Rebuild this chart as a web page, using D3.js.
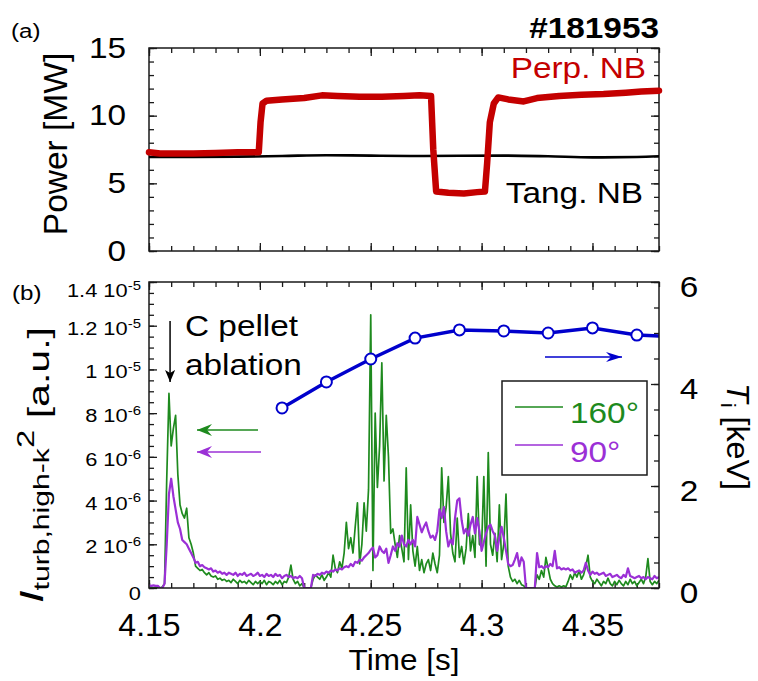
<!DOCTYPE html>
<html>
<head>
<meta charset="utf-8">
<script src="https://cdn.jsdelivr.net/npm/d3@7"></script>
<style>
  body { margin: 0; background: #fff; }
  text { font-family: "Liberation Sans", Arial, sans-serif; }
</style>
</head>
<body>
<div id="chart"></div>
<script>
// ---------- data ----------
// (a) neutral beam power [MW]
var nbTime = [4.150, 4.155, 4.160, 4.170, 4.180, 4.190, 4.195, 4.1995, 4.2003, 4.2012,
              4.203, 4.210, 4.220, 4.228, 4.235, 4.245, 4.255, 4.265, 4.272, 4.2772,
              4.2782, 4.2795, 4.285, 4.292, 4.298, 4.3015, 4.3025, 4.3037, 4.3055, 4.3075,
              4.312, 4.319, 4.325, 4.335, 4.345, 4.355, 4.365, 4.372, 4.380];
var perpNB = [7.3, 7.2, 7.2, 7.2, 7.25, 7.3, 7.3, 7.3, 9.5, 10.9,
              11.1, 11.2, 11.3, 11.5, 11.45, 11.4, 11.4, 11.45, 11.5, 11.45,
              7.5, 4.4, 4.3, 4.25, 4.35, 4.4, 6.5, 9.5, 10.9, 11.35,
              11.2, 11.05, 11.3, 11.45, 11.55, 11.6, 11.7, 11.78, 11.85];
var tangTime = [4.15, 4.17, 4.19, 4.21, 4.23, 4.25, 4.27, 4.29, 4.31, 4.33, 4.35, 4.37, 4.38];
var tangNB   = [6.95, 6.95, 6.97, 7.02, 7.08, 7.05, 7.02, 7.04, 7.05, 7.0, 6.92, 6.95, 7.0];

// (b) ion temperature [keV]
var tiTime = [4.21, 4.23, 4.25, 4.27, 4.29, 4.31, 4.33, 4.35, 4.37, 4.39];
var tiKeV  = [3.53, 4.04, 4.49, 4.9, 5.06, 5.04, 5.0, 5.1, 4.96, 4.92];

// (b) high-k turbulence intensity [1e-6 a.u.], sampled every 1 ms from 4.150 s
var sigStart = 4.150, sigStep = 0.001;
var sig160 = [
  0.05, 0.05, 0, 0.05, 0, 0, 0.05, 0.2, 5.0, 8.9,
  6.5, 7.3, 7.9, 5.2, 3.8, 3.4, 3.2, 3.65, 2.3, 2.0,
  1.6, 1.0, 0.9, 0.8, 0.85, 0.7, 0.6, 0.7, 0.55, 0.5,
  0.55, 0.4, 0.45, 0.35, 0.4, 0.3, 0.35, 0.25, 0.4, 0.3,
  0.2, 0.35, 0.25, 0.3, 0.2, 0.35, 0.25, 0.15, 0.3, 0.2,
  0.3, 0.2, 0.35, 0.15, 0.3, 0.25, 0.15, 0.3, 0.2, 0.35,
  0.15, 0.3, 0.25, 0.5, 1.05, 0.4, 0.2, 0.3, 0.1, 0.2,
  0, 0, 0, 0, 0.4, 0.6, 0.5, 0.4, 0.6, 0.35,
  0.5, 0.7, 0.5, 1.5, 0.9, 0.7, 1.2, 0.9, 1.6, 3.0,
  1.8, 2.3, 1.6, 2.8, 3.9, 1.1, 2.0, 3.9, 2.6, 4.5,
  12.5, 0.8, 8.0, 4.6, 6.5, 10.3, 4.9, 7.9, 6.0, 2.5,
  2.7, 2.0, 1.4, 2.4, 1.8, 1.2, 5.5, 1.3, 3.8, 1.7,
  1.0, 1.9, 0.8, 1.3, 0.7, 1.1, 1.3, 0.8, 1.6, 1.1,
  0.7, 1.5, 5.5, 3.0, 3.7, 5.1, 2.5, 1.6, 1.2, 3.2,
  1.4, 1.9, 1.1, 1.8, 3.4, 1.7, 2.4, 1.4, 5.1, 2.0,
  1.9, 5.1, 1.0, 6.2, 2.0, 1.5, 2.5, 1.2, 3.8, 1.3,
  2.0, 4.3, 1.0, 0.5, 0.3, 0.4, 0.2, 0.35, 0.15, 0.1,
  0, 0, 0, 0, 0, 0.6, 0.4, 0.8, 0.5, 1.4,
  0.9, 0.4, 0.2, 0.1, 0.05, 0.1, 0.05, 0.1, 0.05, 0.3,
  0.6, 0.4, 0.7, 0.5, 0.8, 0.4, 0.6, 1.0, 1.5, 0.5,
  0.3, 0.2, 0.4, 0.25, 0.1, 0.3, 0.2, 0.45, 0.2, 0.1,
  0.3, 0.15, 0.35, 0.2, 0.1, 0.3, 0.15, 0.4, 0.2, 0.3,
  0.1, 0.25, 0.4, 0.2, 0.5, 1.35, 0.3, 0.15, 0.3, 0.2,
  0.35];
var sig90 = [
  0.12, 0.1, 0.12, 0.1, 0.1, 0, 0, 0.2, 2.0, 4.3,
  5.0, 4.2, 3.6, 3.0, 2.7, 2.2, 2.1, 2.0, 1.8, 1.6,
  1.4, 1.15, 1.2, 1.0, 1.05, 0.95, 0.9, 0.85, 0.9, 0.75,
  0.8, 0.7, 0.75, 0.65, 0.7, 0.6, 0.7, 0.65, 0.6, 0.7,
  0.55, 0.65, 0.6, 0.7, 0.55, 0.6, 0.65, 0.55, 0.6, 0.7,
  0.55, 0.6, 0.5, 0.65, 0.55, 0.6, 0.5, 0.65, 0.55, 0.6,
  0.45, 0.55, 0.6, 0.5, 0.55, 0.45, 0.5, 0.45, 0.55, 0.45,
  0, 0, 0, 0, 0.6, 0.55, 0.65, 0.6, 0.7, 0.65,
  0.75, 0.7, 0.8, 0.75, 0.85, 0.8, 0.9, 0.85, 0.95, 1.0,
  0.95, 1.1, 1.0, 1.2, 1.15, 1.3, 1.25, 1.4, 1.5, 1.6,
  1.75, 1.85, 1.4, 1.5, 1.9, 1.7, 1.6, 1.8, 1.15, 1.5,
  1.9, 1.7, 2.05, 1.9, 2.4, 2.0, 1.9, 2.2, 2.0, 2.2,
  1.9, 3.25, 2.9, 2.55, 2.8, 3.0, 2.6, 2.3, 2.4, 2.2,
  2.6, 3.6, 3.2, 3.7, 2.6, 1.9, 2.2, 2.0, 3.2, 4.0,
  4.1, 3.1, 2.5, 2.7, 2.4, 2.9, 3.25, 2.5, 3.2, 2.6,
  1.7, 2.1, 2.5, 2.8, 2.9, 2.6, 2.4, 1.7, 2.3, 2.8,
  2.3, 1.7, 1.1, 1.0, 1.05, 1.3, 1.6, 1.0, 1.4, 1.2,
  0, 0, 0, 0, 0, 1.6, 0.95, 1.0, 0.9, 1.0,
  0.95, 1.1, 1.0, 1.7, 0.9, 0.95, 0.85, 0.9, 0.85, 0.9,
  0.8, 0.85, 0.7, 0.75, 0.8, 0.7, 0.8, 1.15, 0.8, 0.6,
  0.75, 0.65, 0.7, 0.6, 0.65, 0.7, 0.55, 0.6, 0.65, 0.5,
  0.55, 0.6, 0.5, 0.45, 0.6, 0.5, 0.9, 0.55, 0.5, 0.45,
  0.5, 0.55, 0.45, 0.5, 0.4, 0.5, 0.45, 0.4, 0.55, 0.45,
  0.5];

// ticks and labels
var xTicks = [4.15, 4.2, 4.25, 4.3, 4.35];
var xTickLabels = ["4.15", "4.2", "4.25", "4.3", "4.35"];
var powerTicks = [0, 5, 10, 15];
var intTicks = [0, 2, 4, 6, 8, 10, 12, 14];
var intTickMant = ["0", "2", "4", "6", "8", "1", "1.2", "1.4"];
var intTickExp  = ["", "-6", "-6", "-6", "-6", "-5", "-5", "-5"];
var tiTicks = [0, 2, 4, 6];

// ---------- layout ----------
var W = 758, H = 681;
var left = 149, right = 659;
var aTop = 48, aBot = 251, bTop = 282, bBot = 588;
var SX = 1.15;          // lettering in the source is stretched along its reading direction
var ink = "#1a1a1a";
var cRed = "#c40000", cGreen = "#1e8a1e", cPurple = "#9b30d6", cBlue = "#0000cc";

var svg = d3.select("#chart")
  .append("svg")
    .attr("width", W)
    .attr("height", H);

var x  = d3.scaleLinear().domain([4.15, 4.38]).range([left, right]);
var yP = d3.scaleLinear().domain([0, 15]).range([aBot, aTop]);
var yI = d3.scaleLinear().domain([0, 14]).range([bBot, bTop]);
var yT = d3.scaleLinear().domain([0, 6]).range([bBot, bTop]);

var xMinor = d3.range(0, 24).map(function(i) { return 4.15 + i * 0.01; });

// draws a set of inward ticks (no labels) with a d3 axis
function tickRow(gen, pos, vals, size) {
  var g = svg.append("g")
      .attr("transform", pos)
      .call(gen.tickValues(vals).tickSize(-size).tickSizeOuter(0).tickFormat(""));
  g.select(".domain").remove();
  g.selectAll("line").attr("stroke", ink).attr("stroke-width", 1.3);
  return g;
}

function styleLabels(g, size, sx) {
  g.select(".domain").remove();
  g.attr("font-family", null).attr("font-size", size);
  g.selectAll("line").attr("stroke", ink).attr("stroke-width", 1.3);
  g.selectAll("text").attr("fill", "#000").attr("transform", "scale(" + sx + ",1)");
}

// free text, stretched along its reading direction like the source
function label(str, px, py, size, anchor, rot, sx) {
  return svg.append("text")
    .attr("transform", "translate(" + px + "," + py + ")" + (rot ? " rotate(" + rot + ")" : "") +
                       " scale(" + (sx || SX) + ",1)")
    .attr("font-size", size)
    .attr("text-anchor", anchor || "start")
    .text(str);
}

// ---------- panel (a) ----------
tickRow(d3.axisBottom(x), "translate(0," + aBot + ")", xMinor, 5);
tickRow(d3.axisBottom(x), "translate(0," + aBot + ")", xTicks, 8);
tickRow(d3.axisTop(x), "translate(0," + aTop + ")", xMinor, 5);
tickRow(d3.axisTop(x), "translate(0," + aTop + ")", xTicks, 8);
tickRow(d3.axisLeft(yP), "translate(" + left + ",0)", d3.range(0, 16), 5);
tickRow(d3.axisRight(yP), "translate(" + right + ",0)", d3.range(0, 16), 5);
tickRow(d3.axisRight(yP), "translate(" + right + ",0)", powerTicks, 8);

var gPL = svg.append("g")
    .attr("transform", "translate(" + left + ",0)")
    .call(d3.axisLeft(yP).tickValues(powerTicks).tickSize(-8).tickSizeOuter(0).tickPadding(20)
      .tickFormat(d3.format("d")));
styleLabels(gPL, 29, SX);

svg.append("rect")
    .attr("x", left).attr("y", aTop)
    .attr("width", right - left).attr("height", aBot - aTop)
    .attr("fill", "none").attr("stroke", ink).attr("stroke-width", 1.5);

var lineTang = d3.line()
    .x(function(d, i) { return x(tangTime[i]); })
    .y(function(d) { return yP(d); })
    .curve(d3.curveMonotoneX);
svg.append("path")
    .datum(tangNB)
    .attr("d", lineTang)
    .attr("fill", "none").attr("stroke", "#000").attr("stroke-width", 2.6);

var linePerp = d3.line()
    .x(function(d, i) { return x(nbTime[i]); })
    .y(function(d) { return yP(d); });
svg.append("path")
    .datum(perpNB)
    .attr("d", linePerp)
    .attr("fill", "none").attr("stroke", cRed).attr("stroke-width", 6.5)
    .attr("stroke-linejoin", "round").attr("stroke-linecap", "round");

label("Perp. NB", 646, 78, 29, "end").attr("fill", cRed);
label("Tang. NB", 643, 203, 29, "end").attr("fill", "#000");
label("#181953", 659, 38, 29, "end").attr("font-weight", "bold");
label("(a)", 11, 38, 21);
label("Power [MW]", 67, 144, 33.5, "middle", -90, 1);

// ---------- panel (b) ----------
tickRow(d3.axisBottom(x), "translate(0," + bBot + ")", xMinor, 5);
tickRow(d3.axisTop(x), "translate(0," + bTop + ")", xMinor, 5);
tickRow(d3.axisTop(x), "translate(0," + bTop + ")", xTicks, 8);
tickRow(d3.axisLeft(yI), "translate(" + left + ",0)", d3.range(0, 29).map(function(i) { return i * 0.5; }), 5);
tickRow(d3.axisRight(yT), "translate(" + right + ",0)", d3.range(0, 13).map(function(i) { return i * 0.5; }), 5);

var gX = svg.append("g")
    .attr("transform", "translate(0," + bBot + ")")
    .call(d3.axisBottom(x).tickValues(xTicks).tickSize(-8).tickSizeOuter(0).tickPadding(25)
      .tickFormat(function(d, i) { return xTickLabels[i]; }));
styleLabels(gX, 32, 1);

var gIL = svg.append("g")
    .attr("transform", "translate(" + left + ",0)")
    .call(d3.axisLeft(yI).tickValues(intTicks).tickSize(-8).tickSizeOuter(0).tickPadding(7).tickFormat(""));
styleLabels(gIL, 19, SX);
gIL.selectAll("text").each(function(d, i) {
  var t = d3.select(this).attr("dy", i === 0 ? "0.62em" : (i === 7 ? "0.75em" : "0.45em"));
  t.append("tspan").text(intTickMant[i] + (intTickExp[i] ? " 10" : ""));
  if (intTickExp[i]) {
    t.append("tspan").attr("font-size", 13).attr("dy", "-0.55em").text(intTickExp[i]);
  }
});

var gTR = svg.append("g")
    .attr("transform", "translate(" + right + ",0)")
    .call(d3.axisRight(yT).tickValues(tiTicks).tickSize(-8).tickSizeOuter(0).tickPadding(18)
      .tickFormat(d3.format("d")));
styleLabels(gTR, 29, SX);
gTR.selectAll("text").attr("dy", "0.5em");

svg.append("clipPath").attr("id", "clipB")
  .append("rect")
    .attr("x", left).attr("y", bTop)
    .attr("width", right - left).attr("height", bBot - bTop);

var plotB = svg.append("g").attr("clip-path", "url(#clipB)");

var lineSig = d3.line()
    .x(function(d, i) { return x(sigStart + i * sigStep); })
    .y(function(d) { return yI(d); });

plotB.append("path")
    .datum(sig160)
    .attr("d", lineSig)
    .attr("fill", "none").attr("stroke", cGreen).attr("stroke-width", 1.7)
    .attr("stroke-linejoin", "round");
plotB.append("path")
    .datum(sig90)
    .attr("d", lineSig)
    .attr("fill", "none").attr("stroke", cPurple).attr("stroke-width", 2.2)
    .attr("stroke-linejoin", "round");

var lineTi = d3.line()
    .x(function(d, i) { return x(tiTime[i]); })
    .y(function(d) { return yT(d); });
plotB.append("path")
    .datum(tiKeV)
    .attr("d", lineTi)
    .attr("fill", "none").attr("stroke", cBlue).attr("stroke-width", 3.5);
plotB.selectAll("circle")
    .data(tiKeV)
    .enter()
    .append("circle")
      .attr("cx", function(d, i) { return x(tiTime[i]); })
      .attr("cy", function(d) { return yT(d); })
      .attr("r", 5.5)
      .attr("fill", "#fff").attr("stroke", cBlue).attr("stroke-width", 2);

svg.append("rect")
    .attr("x", left).attr("y", bTop)
    .attr("width", right - left).attr("height", bBot - bTop)
    .attr("fill", "none").attr("stroke", ink).attr("stroke-width", 1.5);

// arrow heads
var defs = svg.append("defs");
function head(id, color, len, half, notch) {
  defs.append("marker")
      .attr("id", id)
      .attr("viewBox", "0 " + (-half) + " " + len + " " + (2 * half))
      .attr("refX", len).attr("refY", 0)
      .attr("markerWidth", len).attr("markerHeight", 2 * half)
      .attr("markerUnits", "userSpaceOnUse")
      .attr("orient", "auto")
    .append("path")
      .attr("d", "M0," + (-half) + " L" + len + ",0 L0," + half + " L" + notch + ",0 Z")
      .attr("fill", color);
}
head("hBlack", "#000", 12, 5, 3);
head("hGreen", cGreen, 15, 6, 5);
head("hPurple", cPurple, 15, 6, 5);
head("hBlue", cBlue, 16, 5, 5);

function arrow(x1, y1, x2, y2, color, w, id) {
  svg.append("line")
      .attr("x1", x1).attr("y1", y1).attr("x2", x2).attr("y2", y2)
      .attr("stroke", color).attr("stroke-width", w)
      .attr("marker-end", "url(#" + id + ")");
}
arrow(x(4.1595), 321, x(4.1595), 382, "#000", 1.5, "hBlack");
arrow(258, 430, 197, 430, cGreen, 1.6, "hGreen");
arrow(261, 452, 197, 452, cPurple, 1.6, "hPurple");
arrow(545, 357, 622, 357, cBlue, 1.6, "hBlue");

label("C pellet", 185, 336, 29);
label("ablation", 185, 375, 29);
label("(b)", 12, 300, 21);

// legend
svg.append("rect")
    .attr("x", 502).attr("y", 381).attr("width", 145).attr("height", 94)
    .attr("fill", "#fff").attr("stroke", ink).attr("stroke-width", 1.5);
svg.append("line").attr("x1", 515).attr("x2", 563).attr("y1", 407).attr("y2", 407)
    .attr("stroke", cGreen).attr("stroke-width", 1.7);
svg.append("line").attr("x1", 515).attr("x2", 563).attr("y1", 445).attr("y2", 445)
    .attr("stroke", cPurple).attr("stroke-width", 1.7);
label("160\u00b0", 570, 423, 29).attr("fill", cGreen);
label("90\u00b0", 570, 462, 29).attr("fill", cPurple);

// axis titles
label("Time [s]", 404, 670, 30, "middle", 0, 1.05);

// left title, reading bottom to top, fitted to its span in the source
var tL = svg.append("text")
    .attr("transform", "translate(49,603) rotate(-90)")
    .attr("font-size", 30)
    .attr("textLength", 276)
    .attr("lengthAdjust", "spacingAndGlyphs");
tL.append("tspan").attr("font-style", "italic").attr("font-size", 33).attr("dy", -6).text("I");
tL.append("tspan").attr("font-size", 22).attr("dy", 6).text("turb,high-k");
tL.append("tspan").attr("font-size", 24).attr("dy", -15).text("2");
tL.append("tspan").attr("dy", 15).text(" [a.u.]");

var tR = svg.append("text")
    .attr("transform", "translate(727,383) rotate(90)")
    .attr("font-size", 31)
    .attr("textLength", 107)
    .attr("lengthAdjust", "spacingAndGlyphs");
tR.append("tspan").attr("font-style", "italic").text("T");
tR.append("tspan").attr("font-size", 21).attr("dy", 6).text("i");
tR.append("tspan").attr("dy", -6).text(" [keV]");
</script>
</body>
</html>
